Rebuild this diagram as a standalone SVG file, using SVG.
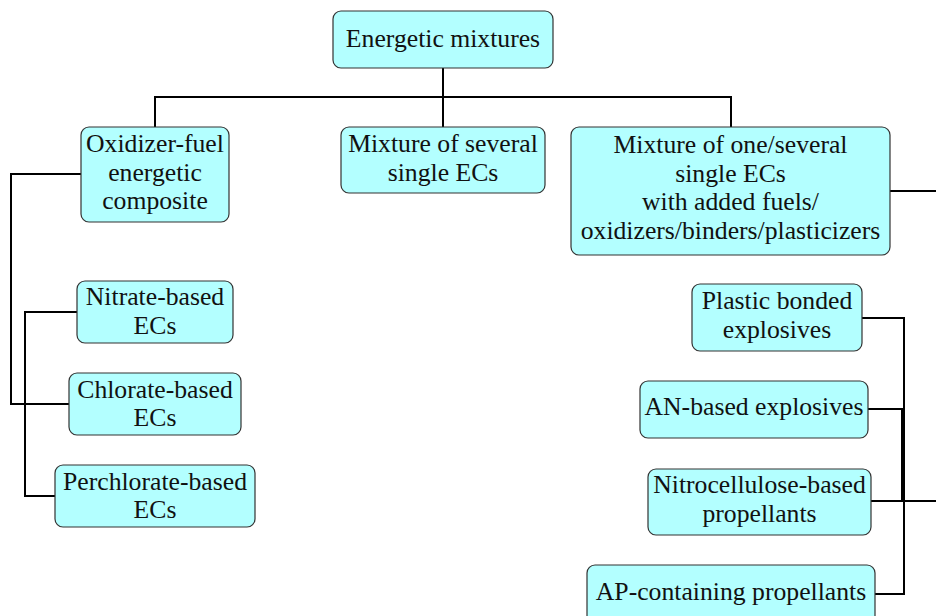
<svg xmlns="http://www.w3.org/2000/svg" width="936" height="616" viewBox="0 0 936 616">
<style>
.box{fill:#b3ffff;stroke:#333333;stroke-width:1.2}
.t{font-family:"Liberation Serif","Times New Roman",serif;font-size:25.7px;fill:#111111;text-anchor:middle}
.c{fill:none;stroke:#000000;stroke-width:2}
</style>
<rect width="936" height="616" fill="#ffffff"/>
<g id="connectors">
<path class="c" d="M443 68V97M155 127V97H731V127M443 97V127"/>
<path class="c" d="M81 174H11V404H69"/>
<path class="c" d="M77 312H25V496H55"/>
<path class="c" d="M890 191H936"/>
<path class="c" d="M862 318H904V594H875"/>
<path class="c" d="M868 409H902V501"/>
<path class="c" d="M871 501H936"/>
</g>
<g id="energetic-mixtures">
<rect class="box" x="333" y="11" width="220" height="57" rx="8"/>
<text class="t" x="443" y="47">Energetic mixtures</text>
</g>
<g id="oxidizer-fuel">
<rect class="box" x="81" y="127" width="148" height="95" rx="8"/>
<text class="t" x="155" y="152">Oxidizer-fuel</text>
<text class="t" x="155" y="181">energetic</text>
<text class="t" x="155" y="209">composite</text>
</g>
<g id="mixture-several">
<rect class="box" x="341" y="127" width="204" height="66" rx="8"/>
<text class="t" x="443" y="152">Mixture of several</text>
<text class="t" x="443" y="181">single ECs</text>
</g>
<g id="mixture-one-several">
<rect class="box" x="571" y="127" width="319" height="128" rx="8"/>
<text class="t" x="730.5" y="153">Mixture of one/several</text>
<text class="t" x="730.5" y="182">single ECs</text>
<text class="t" x="730.5" y="210">with added fuels/</text>
<text class="t" x="730.5" y="239">oxidizers/binders/plasticizers</text>
</g>
<g id="nitrate-based">
<rect class="box" x="77" y="281" width="156" height="62" rx="8"/>
<text class="t" x="155" y="305">Nitrate-based</text>
<text class="t" x="155" y="334">ECs</text>
</g>
<g id="chlorate-based">
<rect class="box" x="69" y="373" width="172" height="62" rx="8"/>
<text class="t" x="155" y="398">Chlorate-based</text>
<text class="t" x="155" y="426">ECs</text>
</g>
<g id="perchlorate-based">
<rect class="box" x="55" y="465" width="200" height="62" rx="8"/>
<text class="t" x="155" y="490">Perchlorate-based</text>
<text class="t" x="155" y="518">ECs</text>
</g>
<g id="plastic-bonded">
<rect class="box" x="692" y="284" width="170" height="67" rx="8"/>
<text class="t" x="777" y="309">Plastic bonded</text>
<text class="t" x="777" y="338">explosives</text>
</g>
<g id="an-based">
<rect class="box" x="640" y="381" width="228" height="57" rx="8"/>
<text class="t" x="754" y="415">AN-based explosives</text>
</g>
<g id="nitrocellulose-based">
<rect class="box" x="648" y="469" width="223" height="66" rx="8"/>
<text class="t" x="759.5" y="493">Nitrocellulose-based</text>
<text class="t" x="759.5" y="522">propellants</text>
</g>
<g id="ap-containing">
<rect class="box" x="587" y="565" width="288" height="62" rx="8"/>
<text class="t" x="731" y="600">AP-containing propellants</text>
</g>
</svg>
